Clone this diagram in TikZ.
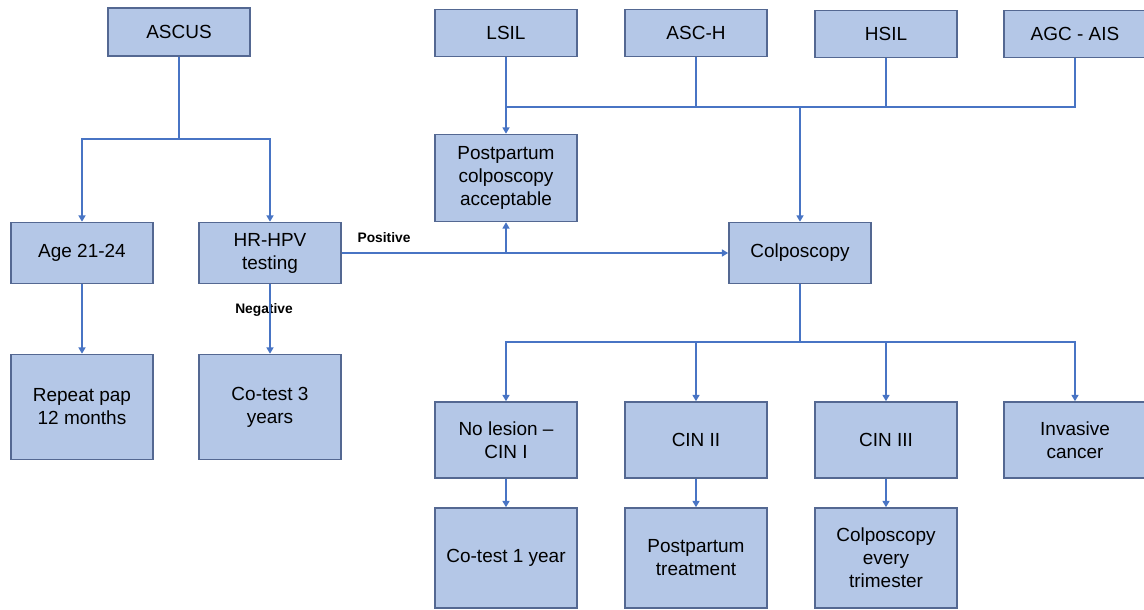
\documentclass[tikz,border=0pt]{standalone}
\usepackage{fontspec}
\setmainfont{Liberation Sans}
\usepackage{tikz}
\usetikzlibrary{shapes,positioning,calc}
\usetikzlibrary{arrows.meta}
\definecolor{boxfill}{RGB}{180,199,231}
\definecolor{boxline}{RGB}{84,104,146}
\definecolor{linkblue}{RGB}{72,116,196}
\tikzstyle{block} = [rectangle, minimum width=3.55cm, inner sep=2pt, align=center, fill=boxfill, draw=boxline, line width=1.1pt, font=\fontsize{13.5}{16.4}\selectfont]
\tikzstyle{link} = [draw=linkblue, line width=1pt]
\tikzstyle{flow} = [draw=linkblue, line width=1pt, -{Triangle[length=4.5pt,width=5pt]}]
\tikzstyle{esito} = [inner sep=0pt, font=\fontsize{9.8}{11}\selectfont\bfseries]

\begin{document}
\begin{tikzpicture}[x=0.025cm, y=-0.025cm]
						\useasboundingbox (0,0) rectangle (1144,610);
						\node[block, minimum height=1.2cm] (ascus) at (179,32) {ASCUS};
						\node[block, minimum height=1.175cm] (lsil) at (506,33) {LSIL};
						\node[block, minimum height=1.175cm] (asch) at (696,33) {ASC-H};
						\node[block, minimum height=1.175cm] (hsil) at (886,34) {HSIL};
						\node[block, minimum height=1.175cm] (agc) at (1075,34) {AGC - AIS};
						\node[block, minimum height=2.175cm] (post) at (506,178) {Postpartum\\colposcopy\\acceptable};
						\node[block, minimum height=1.525cm] (age) at (82,253) {Age 21-24};
						\node[block, minimum height=1.525cm] (hpv) at (270,253) {HR-HPV\\testing};
						\node[block, minimum height=1.525cm] (colpo) at (800,253) {Colposcopy};
						\node[block, minimum height=2.625cm] (repeat) at (82,407) {Repeat pap\\12 months};
						\node[block, minimum height=2.625cm] (cotre) at (270,407) {Co-test 3\\years};
						\node[block, minimum height=1.9cm] (nolesion) at (506,440) {No lesion --\\CIN I};
						\node[block, minimum height=1.9cm] (cindue) at (696,440) {CIN II};
						\node[block, minimum height=1.9cm] (cintre) at (886,440) {CIN III};
						\node[block, minimum height=1.9cm] (invasive) at (1075,440) {Invasive\\cancer};
						\node[block, minimum height=2.5cm] (counoanno) at (506,558) {Co-test 1 year};
						\node[block, minimum height=2.5cm] (pptreat) at (696,558) {Postpartum\\treatment};
						\node[block, minimum height=2.5cm] (trimester) at (886,558) {Colposcopy\\every\\trimester};
						\node[esito] (positive) at (384,238) {Positive};
						\node[esito] (negative) at (264,310) {Negative};
						\coordinate (jascus) at (179,139);
						\coordinate (jtop) at (506,107);
						\coordinate (jpos) at (506,253);
						\coordinate (jcolpo) at (800,342);
						\draw[link] (ascus) -- (jascus);
						\draw[flow] (jascus) -| (age);
						\draw[flow] (jascus) -| (hpv);
						\draw[flow] (age) -- (repeat);
						\draw[flow] (hpv) -- (cotre);
						\draw[flow] (lsil) -- (post);
						\draw[link] (agc) |- (jtop);
						\draw[link] (asch) -- (asch |- jtop);
						\draw[link] (hsil) -- (hsil |- jtop);
						\draw[flow] (colpo |- jtop) -- (colpo);
						\draw[flow] (hpv) -- (colpo);
						\draw[flow] (jpos) -- (post);
						\draw[link] (colpo) -- (jcolpo);
						\draw[flow] (jcolpo) -| (nolesion);
						\draw[flow] (jcolpo) -| (cindue);
						\draw[flow] (jcolpo) -| (cintre);
						\draw[flow] (jcolpo) -| (invasive);
						\draw[flow] (nolesion) -- (counoanno);
						\draw[flow] (cindue) -- (pptreat);
						\draw[flow] (cintre) -- (trimester);
					\end{tikzpicture}
\end{document}
